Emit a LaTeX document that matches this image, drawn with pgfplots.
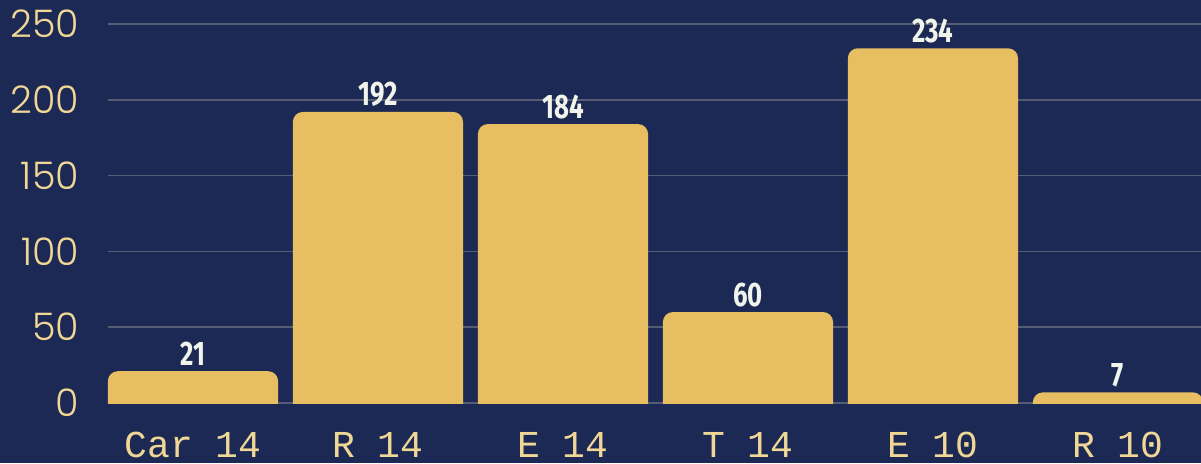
\documentclass[border=0pt]{standalone}
\usepackage{fontspec}
\usepackage{pgfplots}
\pgfplotsset{compat=1.18}
\newfontfamily\tickfont{Poppins Light}
\newfontfamily\catfont{Liberation Mono}
\newfontfamily\valfont{Fira Sans}[FakeStretch=0.76]
\definecolor{bg}{HTML}{1B2954}
\definecolor{bargold}{HTML}{E7BF62}
\definecolor{ticktext}{HTML}{F1D796}
\definecolor{gridgray}{HTML}{555C74}
\definecolor{valtext}{HTML}{F1F4EA}
\begin{document}
\begin{tikzpicture}
\fill[bg] (-54pt,-30pt) rectangle (546.5pt,201.5pt);
\begin{axis}[
  at={(0,0)}, anchor=south west,
  scale only axis,
  width=546.5pt, height=189.5pt,
  xmin=-0.4595, xmax=5.449,
  ymin=0, ymax=250,
  ytick={0,50,100,150,200,250},
  xtick={0,1,2,3,4,5},
  xticklabels={Car 14, R 14, E 14, T 14, E 10, R 10},
  axis line style={draw=none},
  tick style={draw=none},
  ymajorgrids,
  major grid style={gridgray, line width=0.8pt},
  yticklabel style={font=\tickfont\fontsize{19}{19}\selectfont, text=ticktext, anchor=east, xshift=-11pt},
  xticklabel style={font=\catfont\fontsize{19}{19}\selectfont, text=ticktext, anchor=base, yshift=-27pt},
  /pgf/number format/assume math mode=true,
  clip=true,
]
\pgfplotsset{barstyle/.style={fill=bargold, draw=none, rounded corners=5pt}}
\addplot[barstyle] coordinates {(-0.46,-20) (-0.46,21) (0.46,21) (0.46,-20)} -- cycle;
\addplot[barstyle] coordinates {(0.54,-20) (0.54,192) (1.46,192) (1.46,-20)} -- cycle;
\addplot[barstyle] coordinates {(1.54,-20) (1.54,184) (2.46,184) (2.46,-20)} -- cycle;
\addplot[barstyle] coordinates {(2.54,-20) (2.54,60) (3.46,60) (3.46,-20)} -- cycle;
\addplot[barstyle] coordinates {(3.54,-20) (3.54,234) (4.46,234) (4.46,-20)} -- cycle;
\addplot[barstyle] coordinates {(4.54,-20) (4.54,7) (5.46,7) (5.46,-20)} -- cycle;
\addplot[draw=none, mark=none, nodes near coords,
  every node near coord/.append style={font=\valfont\bfseries\fontsize{17}{17}\selectfont, text=valtext, anchor=base, inner sep=0pt, yshift=3pt}]
  coordinates {(0,21) (1,192) (2,184) (3,60) (4,234) (5,7)};
\end{axis}
\pgfresetboundingbox
\path[use as bounding box] (-54pt,-30pt) rectangle (546.5pt,201.5pt);
\end{tikzpicture}
\end{document}
